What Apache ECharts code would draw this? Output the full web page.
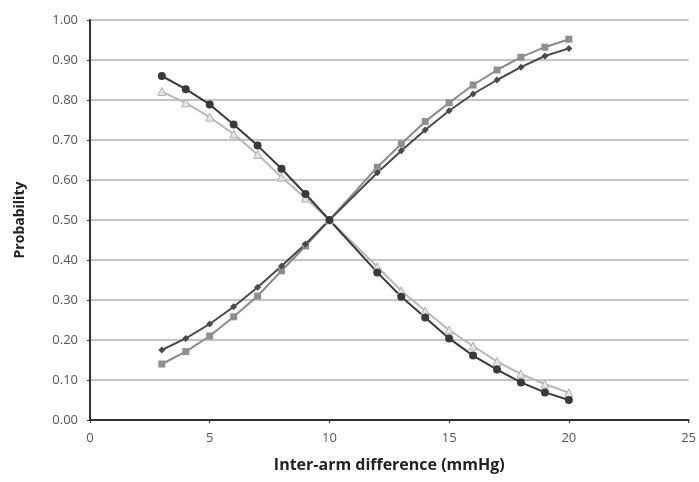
<!DOCTYPE html>
<html>
<head>
<meta charset="utf-8">
<script src="https://cdn.jsdelivr.net/npm/echarts@6/dist/echarts.min.js"></script>
<style>
  html, body { margin: 0; padding: 0; background: #fff; }
  #chart { width: 699px; height: 482px; }
</style>
</head>
<body>
<div id="chart"></div>
<script>
  // inter-arm difference (mmHg), no point at 11
  var xValues = [3, 4, 5, 6, 7, 8, 9, 10, 12, 13, 14, 15, 16, 17, 18, 19, 20]

  // falling curves
  var circleDown = [0.86, 0.827, 0.789, 0.739, 0.686, 0.628, 0.565, 0.50, 0.369, 0.308, 0.256, 0.204, 0.161, 0.126, 0.094, 0.069, 0.05]
  var triangleDown = [0.821, 0.793, 0.757, 0.715, 0.664, 0.607, 0.555, 0.50, 0.383, 0.323, 0.273, 0.225, 0.185, 0.146, 0.115, 0.09, 0.068]

  // rising curves
  var diamondUp = [0.175, 0.204, 0.24, 0.283, 0.332, 0.385, 0.44, 0.50, 0.618, 0.673, 0.725, 0.773, 0.815, 0.85, 0.882, 0.91, 0.929]
  var squareUp = [0.14, 0.171, 0.21, 0.258, 0.31, 0.373, 0.435, 0.50, 0.632, 0.69, 0.746, 0.793, 0.8375, 0.875, 0.907, 0.932, 0.952]

  function pairs (ys) {
    return xValues.map(function (x, i) { return [x, ys[i]] })
  }

  var chart = echarts.init(document.getElementById('chart'))

  var option = {
    backgroundColor: '#ffffff',
    animation: false,
    grid: {
      left: 90,
      right: 9,
      top: 20,
      bottom: 62
    },
    xAxis: {
      type: 'value',
      min: 0,
      max: 25,
      interval: 5,
      name: 'Inter-arm difference (mmHg)',
      nameLocation: 'middle',
      nameGap: 37,
      nameTextStyle: { fontFamily: 'Open Sans', fontWeight: 'bold', fontSize: 16, color: '#222' },
      axisLine: { lineStyle: { color: '#333', width: 2 } },
      axisTick: { show: true, length: 3, lineStyle: { color: '#333' } },
      axisLabel: { fontFamily: 'Open Sans', fontSize: 13, color: '#555', margin: 12 },
      splitLine: { show: false }
    },
    yAxis: {
      type: 'value',
      min: 0,
      max: 1,
      interval: 0.1,
      name: 'Probability',
      nameLocation: 'middle',
      nameGap: 63,
      nameTextStyle: { fontFamily: 'Open Sans', fontWeight: 'bold', fontSize: 14, color: '#222' },
      axisLine: { show: true, lineStyle: { color: '#333', width: 2 } },
      axisTick: { show: true, length: 3, lineStyle: { color: '#333' } },
      axisLabel: {
        fontFamily: 'Open Sans', fontSize: 13, color: '#555', margin: 12,
        formatter: function (v) { return v.toFixed(2) }
      },
      splitLine: { show: true, lineStyle: { color: '#b0b0b0', width: 1.5 } }
    },
    series: [
      {
        name: 'triangles',
        type: 'line',
        data: pairs(triangleDown),
        symbol: 'triangle',
        symbolSize: 8,
        lineStyle: { color: '#b8b8b8', width: 2 },
        itemStyle: { color: '#e6e6e6', borderColor: '#b0b0b0', borderWidth: 1 }
      },
      {
        name: 'squares',
        type: 'line',
        data: pairs(squareUp),
        symbol: 'rect',
        symbolSize: 7,
        lineStyle: { color: '#8a8a8a', width: 2 },
        itemStyle: { color: '#8f8f8f' }
      },
      {
        name: 'diamonds',
        type: 'line',
        data: pairs(diamondUp),
        symbol: 'diamond',
        symbolSize: 7,
        lineStyle: { color: '#4a4a4a', width: 2 },
        itemStyle: { color: '#4a4a4a' }
      },
      {
        name: 'circles',
        type: 'line',
        data: pairs(circleDown),
        symbol: 'circle',
        symbolSize: 8,
        lineStyle: { color: '#3a3a3a', width: 2 },
        itemStyle: { color: '#3a3a3a' }
      }
    ]
  }

  chart.setOption(option)
</script>
</body>
</html>
